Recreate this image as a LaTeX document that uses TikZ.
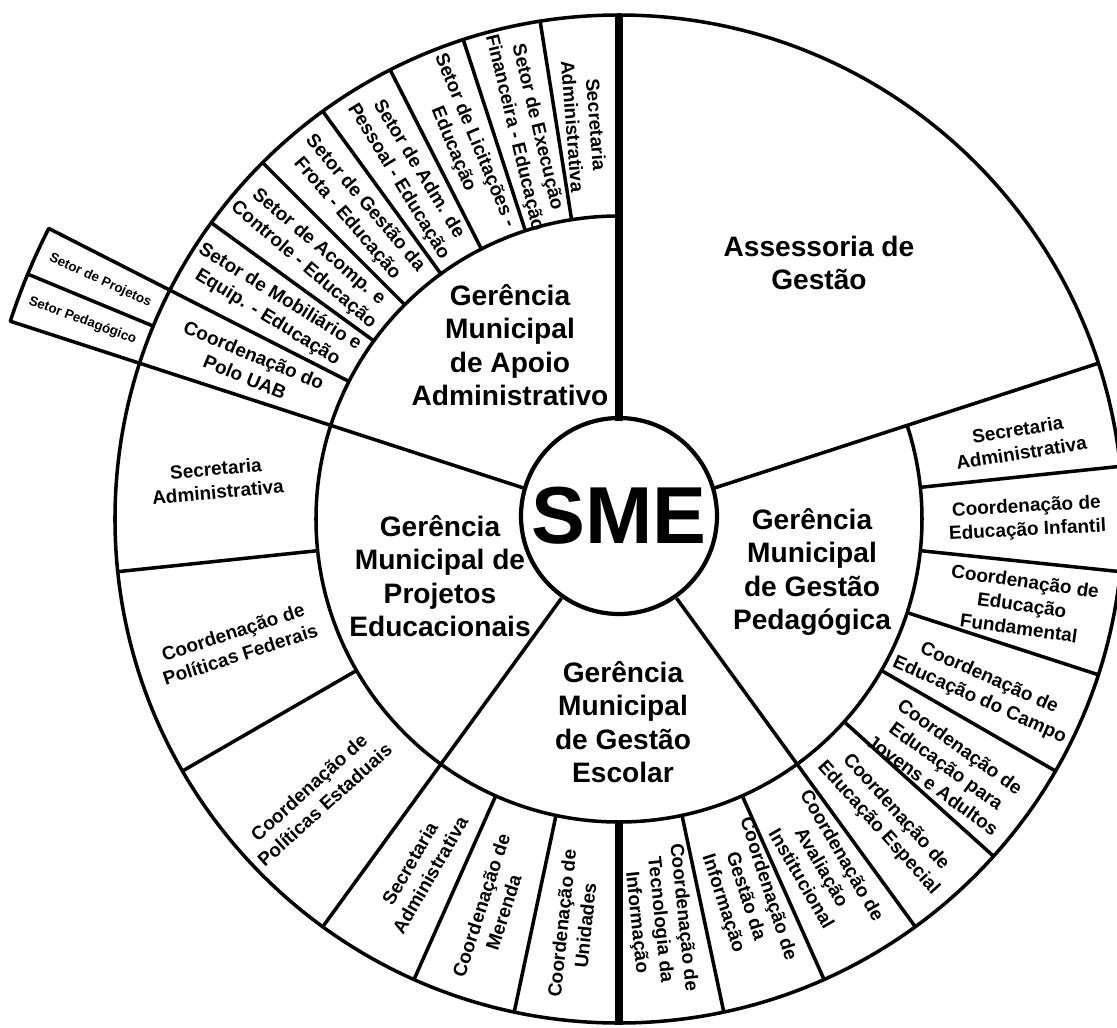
\documentclass[tikz,border=0pt]{standalone}
\usepackage{fontspec}
\setmainfont{Liberation Sans}
\tikzset{
  sub/.style={font=\fontsize{5.4}{6.7}\selectfont\bfseries, align=center, inner sep=0pt},
  ger/.style={font=\fontsize{8}{9.5}\selectfont\bfseries, align=center, inner sep=0pt},
  tinylbl/.style={font=\fontsize{3.8}{4.5}\selectfont\bfseries, align=center, inner sep=0pt},
  thickline/.style={line width=2pt}
}
\begin{document}
\begin{tikzpicture}[line width=1pt, line join=round]
    \useasboundingbox (-6.19,-5.08) rectangle (4.98,5.19);
    \draw (0,0) circle (5.04);
    \draw (90:3.03) arc[start angle=90, end angle=378, radius=3.03];
    \node[circle, draw, line width=1.2pt, minimum size=1.96cm, inner sep=0pt,
          font=\fontsize{23}{23}\selectfont\bfseries] (sme) at (0,0.03) {SME};
    \foreach \a in {18,162,234,306}
    \draw (\a:0.98) -- (\a:5.04);
    \draw[thickline] (90:0.98) -- (90:5.04);
    \draw[thickline] (270:3.03) -- (270:5.04);
    \foreach \a in {99,108,117,126,135,144,153,186,210,246,258,282,294,318,330,342,354,366}
    \draw (\a:3.03) -- (\a:5.04);
    % caixa externa do polo UAB
    \draw (153:5.04) -- (153:6.40) arc[start angle=153, end angle=162, radius=6.40] -- (162:5.04);
    \draw (157.5:5.04) -- (157.5:6.40);

    \node[ger] (assess) at (2.00,2.56) {Assessoria de\\Gestão};
    \node[ger] (ger-apoio) at (-1.09,1.74) {Gerência\\Municipal\\de Apoio\\Administrativo};
    \node[ger] (ger-proj) at (-1.79,-0.57) {Gerência\\Municipal de\\Projetos\\Educacionais};
    \node[ger] (ger-escolar) at (0.04,-2.03) {Gerência\\Municipal\\de Gestão\\Escolar};
    \node[ger] (ger-pedag) at (1.93,-0.53) {Gerência\\Municipal\\de Gestão\\Pedagógica};

    \node[sub, rotate=-85.5] (apoio-sec) at (95:3.95) {Secretaria\\Administrativa};
    \node[sub, rotate=-76.5] (exec) at (103.5:4.0) {Setor de Execução\\Financeira - Educação};
    \node[sub, rotate=-67.5] (licit) at (112.5:4.05) {Setor de Licitações -\\Educação};
    \node[sub, rotate=-58.5] (pessoal) at (121.5:4.03) {Setor de Adm. de\\Pessoal - Educação};
    \node[sub, rotate=-49.5] (frota) at (130.5:4.05) {Setor de Gestão da\\Frota - Educação};
    \node[sub, rotate=-40.5] (acomp) at (139.5:4.05) {Setor de Acomp. e\\Controle - Educação};
    \node[sub, rotate=-31.5] (mobil) at (148.5:4.05) {Setor de Mobiliário e\\Equip. - Educação};
    \node[sub, rotate=-22.5] (uab) at (157.5:4.0) {Coordenação do\\Polo UAB};
    \node[tinylbl, rotate=-24.75] (projetos) at (155.3:5.71) {Setor de Projetos};
    \node[tinylbl, rotate=-20.25] (pedagogico) at (159.7:5.72) {Setor Pedagógico};

    \node[sub, rotate=5] (proj-sec) at (174.5:4.04) {Secretaria\\Administrativa};
    \node[sub, rotate=18] (federais) at (198:4.02) {Coordenação de\\Políticas Federais};
    \node[sub, rotate=42] (estaduais) at (222.5:4.1) {Coordenação de\\Políticas Estaduais};

    \node[sub, rotate=60] (escolar-sec) at (240.4:4.03) {Secretaria\\Administrativa};
    \node[sub, rotate=72] (merenda) at (252:4.1) {Coordenação de\\Merenda};
    \node[sub, rotate=84] (unidades) at (263.6:4.08) {Coordenação de\\Unidades};
    \node[sub, rotate=-84] (tecno) at (275.8:4.03) {Coordenação de\\Tecnologia da\\Informação};
    \node[sub, rotate=-72] (gestinfo) at (288.5:3.98) {Coordenação de\\Gestão da\\Informação};
    \node[sub, rotate=-60] (aval) at (300.3:4.03) {Coordenação de\\Avaliação\\Institucional};

    \node[sub, rotate=9] (pedag-sec) at (11:4.08) {Secretaria\\Administrativa};
    \node[sub, rotate=3] (infantil) at (0:4.08) {Coordenação de\\Educação Infantil};
    \node[sub, rotate=-8] (fundam) at (-12:4.12) {Coordenação de\\Educação\\Fundamental};
    \node[sub, rotate=-24] (campo) at (-25:4.03) {Coordenação de\\Educação do Campo};
    \node[sub, rotate=-36] (eja) at (-37:4.1) {Coordenação de\\Educação para\\Jovens e Adultos};
    \node[sub, rotate=-48] (especial) at (-48.3:4.03) {Coordenação de\\Educação Especial};
\end{tikzpicture}
\end{document}
